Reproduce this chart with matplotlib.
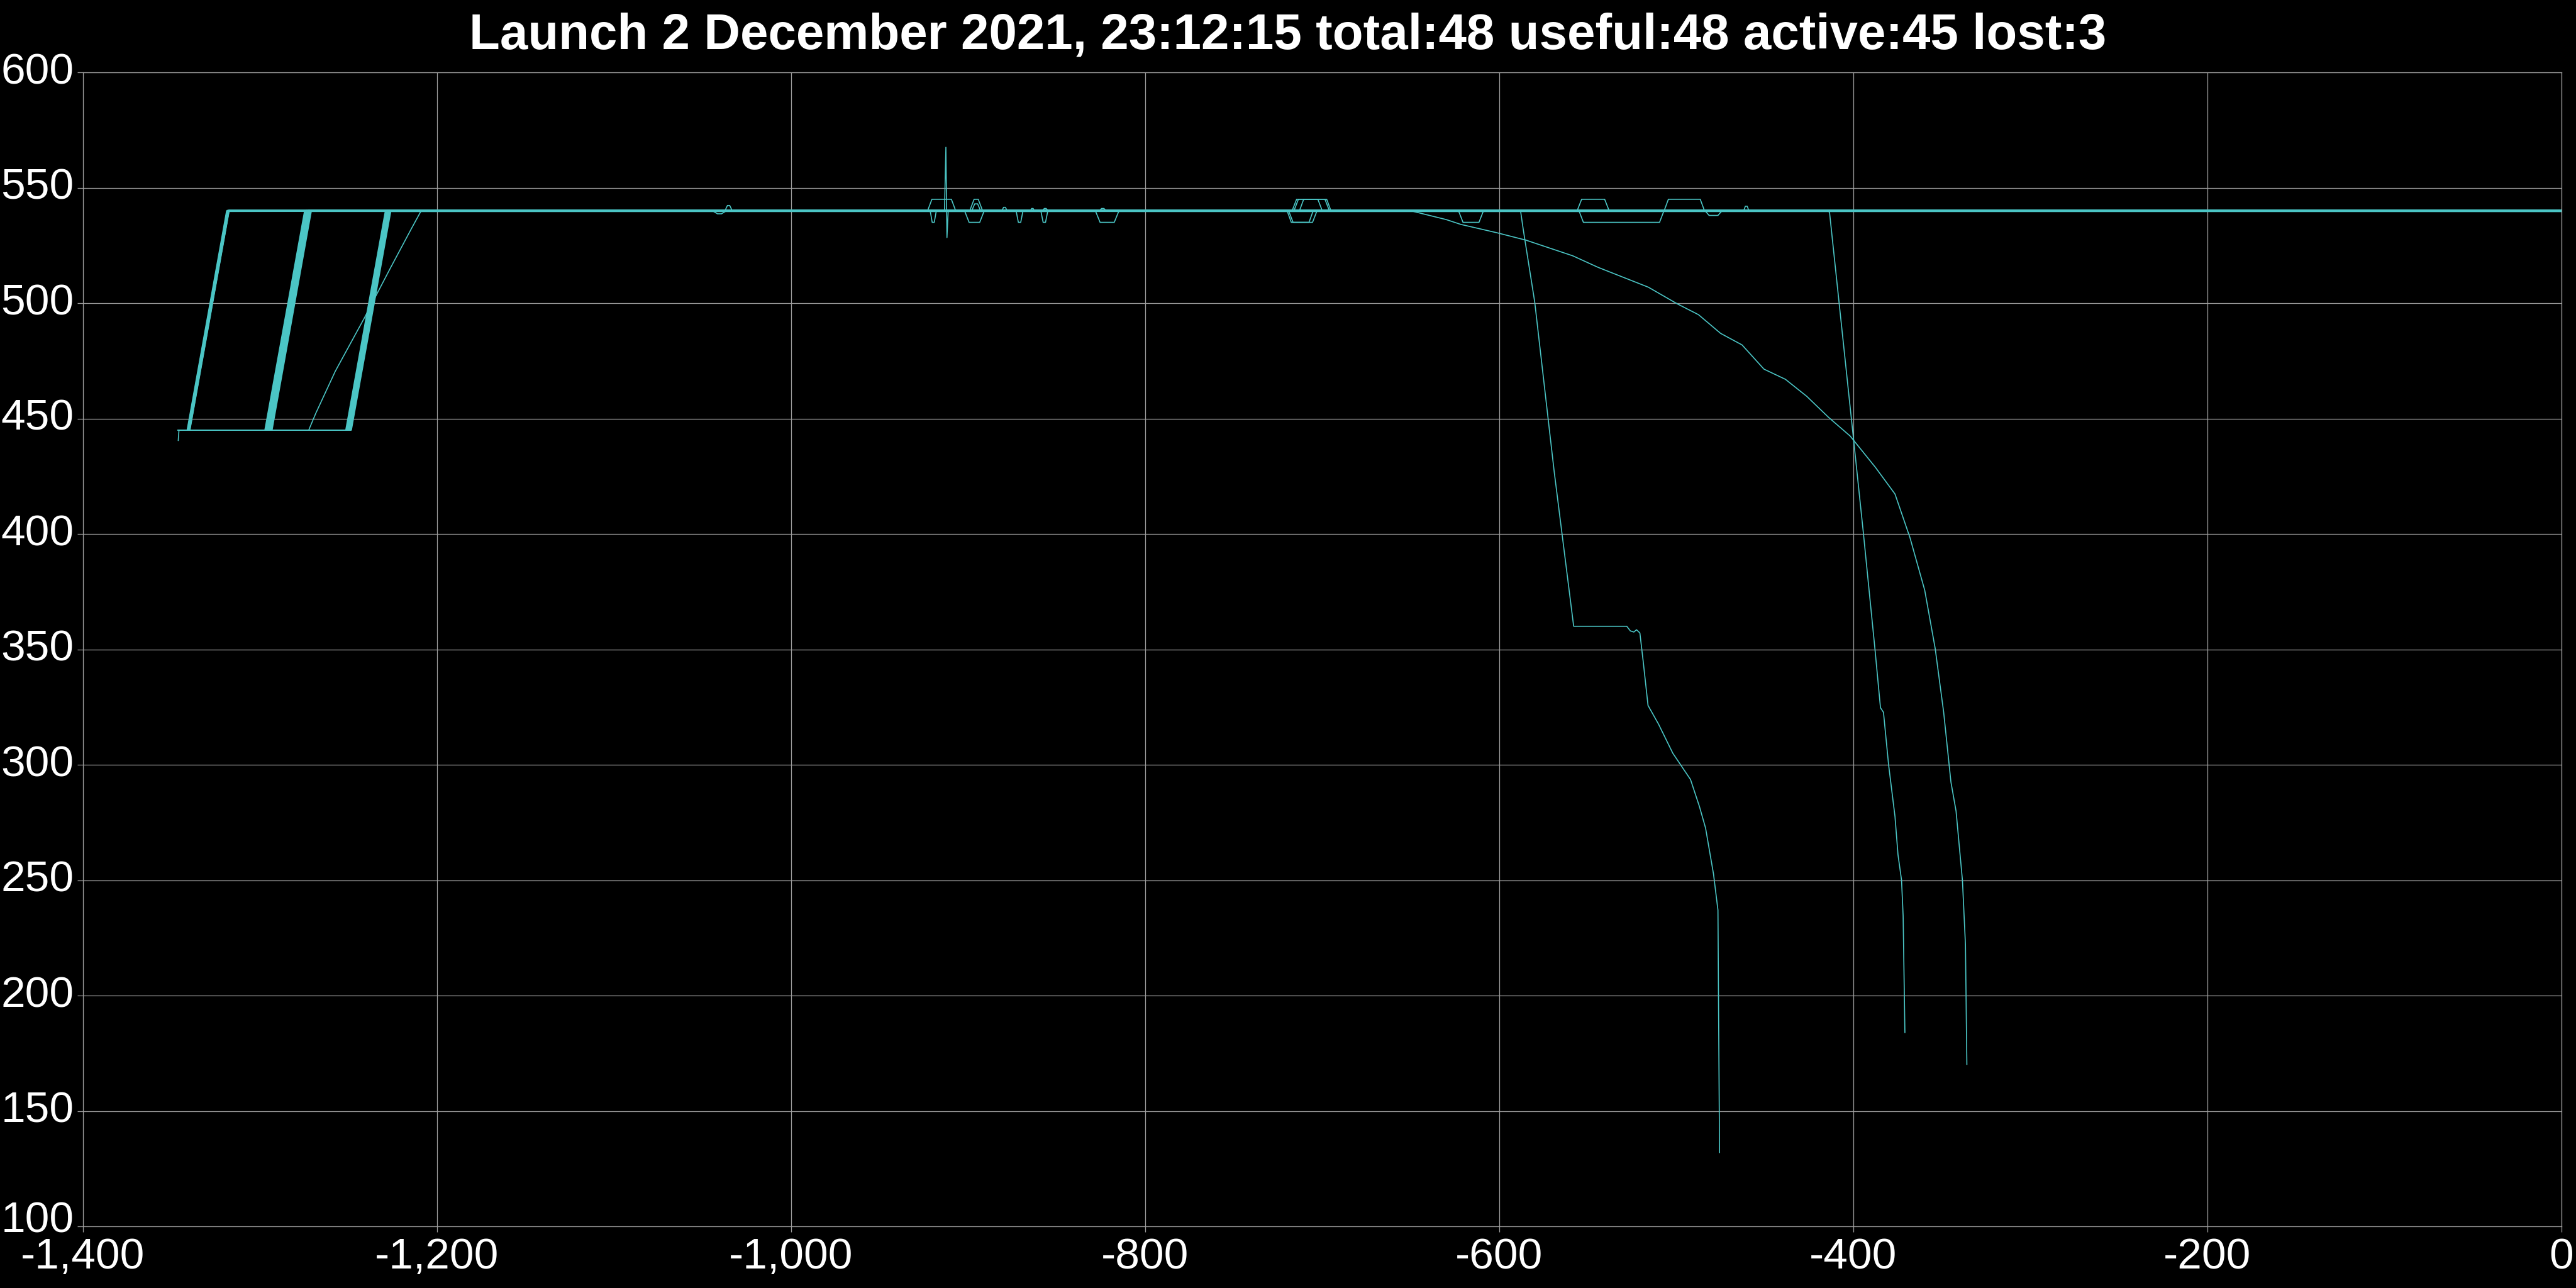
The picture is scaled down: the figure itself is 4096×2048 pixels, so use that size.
import matplotlib
matplotlib.use("Agg")
import matplotlib.pyplot as plt
import matplotlib.transforms as mtransforms
from matplotlib.ticker import FuncFormatter

TITLE = "Launch 2 December 2021, 23:12:15 total:48 useful:48 active:45 lost:3"

# launch / parking orbit (days, km)
LAUNCH_X = -1346.2
PARK_ALT = 445.0

# orbit raising, one entry per satellite (0-11 first plane, 12-29 second, 30-46 third)
raise_start = [
    -1341.2, -1341.0, -1340.8, -1340.9, -1340.5, -1340.6, -1340.2, -1340.3, -1340.0, -1339.9, -1339.6, -1339.7,
    -1297.3, -1297.0, -1296.6, -1296.8, -1296.3, -1296.0, -1295.8, -1295.5, -1295.6, -1295.2, -1295.0, -1294.7,
    -1294.5, -1294.3, -1294.0, -1293.8, -1293.5, -1293.2,
    -1251.6, -1251.3, -1251.0, -1250.8, -1250.7, -1250.5, -1250.3, -1250.1, -1250.0, -1249.8, -1249.6, -1249.4,
    -1249.2, -1249.0, -1248.8, -1248.7, -1248.4,
]
raise_end = [
    -1318.9, -1318.7, -1318.6, -1318.4, -1318.3, -1318.1, -1318.0, -1317.8, -1317.9, -1317.6, -1317.4, -1317.5,
    -1274.9, -1274.6, -1274.3, -1274.1, -1273.9, -1273.6, -1273.4, -1273.2, -1273.0, -1272.8, -1272.6, -1272.4,
    -1272.2, -1272.0, -1271.8, -1271.6, -1271.3, -1271.0,
    -1229.2, -1228.9, -1228.7, -1228.5, -1228.3, -1228.2, -1228.0, -1227.8, -1227.7, -1227.5, -1227.3, -1227.1,
    -1226.9, -1226.8, -1226.6, -1226.4, -1226.1,
]
op_alt = [
    540.0, 539.8, 540.2, 539.9, 540.1, 540.0, 539.7, 540.3, 540.0, 539.9, 540.1, 540.2,
    539.8, 540.0, 540.1, 539.9, 540.2, 540.0, 539.7, 540.1, 540.0, 539.8, 540.3, 540.0,
    539.9, 540.1, 540.0, 539.8, 540.2, 540.0,
    540.1, 539.9, 540.0, 540.2, 539.8, 540.0, 540.1, 539.7, 540.0, 540.2, 539.9, 540.0,
    540.1, 539.8, 540.0, 540.2, 539.9,
    540.0,
]

# satellite 47 climbed on its own, slowly
slow_sat = 47
slow_raise_x = [-1346.2, -1272.5, -1268.5, -1257.5, -1241.2, -1226.3, -1214.7, -1209.0, 0.0]
slow_raise_y = [445.0, 445.0, 452.3, 470.5, 493.4, 515.3, 532.0, 540.0, 540.0]

# one satellite dipped a bit right after launch
first_alt = {0: 440.5}

# station keeping manoeuvres: (sat, x start, x end, altitude)
wiggles = [
    (1, -1044.0, -1037.0, 538.7), (2, -1037.3, -1033.4, 542.3),
    (3, -923.0, -907.0, 545.0), (4, -921.5, -918.0, 535.0),
    (7, -899.0, -892.0, 545.0), (8, -898.0, -893.0, 543.0), (9, -902.0, -891.0, 535.0),
    (10, -881.0, -878.0, 541.5), (11, -873.0, -869.0, 535.0), (13, -865.0, -862.5, 541.0),
    (14, -859.0, -855.0, 535.0), (16, -858.0, -855.0, 541.0),
    (17, -826.0, -822.0, 541.0), (18, -828.0, -815.0, 535.0),
    (19, -717.0, -696.0, 545.0), (20, -716.0, -700.0, 545.0), (21, -713.0, -695.0, 545.0),
    (22, -720.0, -705.0, 535.0), (23, -719.0, -703.0, 535.0),
    (24, -623.0, -609.0, 535.0), (25, -556.0, -538.0, 545.0), (26, -555.0, -507.0, 535.0),
    (27, -507.0, -484.0, 545.0), (28, -484.0, -474.0, 538.0), (29, -462.0, -459.0, 542.0),
]

spike_sat = 6
spike_x = [-913.4, -912.6, -912.0, -911.3]
spike_y = [540.0, 567.5, 528.4, 540.0]

# lost satellites
decay_a_x = [-650.0, -630.0, -621.7, -601.4, -585.0, -558.5, -544.2, -515.8, -499.5, -487.5, -475.0,
             -462.9, -450.5, -438.4, -426.3, -414.0, -401.8, -387.5, -376.5, -368.0, -359.7, -353.8,
             -349.0, -344.9, -342.0, -338.4, -336.7, -335.9]
decay_a_y = [540.0, 536.2, 534.1, 530.5, 527.3, 520.5, 515.5, 506.9, 499.7, 495.0, 486.9,
             481.9, 471.4, 467.0, 459.6, 450.5, 442.4, 428.8, 417.3, 398.3, 375.6, 350.4,
             322.7, 292.5, 279.9, 249.9, 222.0, 170.2]
decay_b_x = [-588.0, -586.5, -580.0, -569.0, -558.0, -545.0, -528.0, -526.0, -524.0, -522.5, -520.6,
             -518.7, -516.0, -510.0, -502.0, -492.0, -487.0, -483.5, -479.0, -476.5, -476.2, -475.6]
decay_b_y = [540.0, 532.0, 500.5, 427.0, 360.0, 360.0, 360.0, 358.0, 357.5, 358.5, 357.1,
             344.6, 325.7, 317.5, 305.0, 293.6, 282.0, 272.6, 252.6, 237.0, 200.0, 132.0]
decay_c_x = [-415.0, -413.5, -400.0, -394.3, -387.8, -384.7, -383.0, -380.1, -376.5, -374.8, -372.8,
             -371.9, -370.9]
decay_c_y = [540.0, 539.5, 441.7, 400.0, 350.0, 324.7, 322.7, 299.9, 277.6, 261.0, 250.0,
             234.5, 184.0]
decays = {15: (decay_a_x, decay_a_y), 5: (decay_b_x, decay_b_y), 35: (decay_c_x, decay_c_y)}

N_SATS = 48
TEAL = "#4bc5c5"
GRID = "#a0a0a0"


def sat_track(i):
    if i == slow_sat:
        pts = list(zip(slow_raise_x, slow_raise_y))
    else:
        alt = op_alt[i]
        pts = [(LAUNCH_X, first_alt.get(i, PARK_ALT)), (LAUNCH_X + 0.4, PARK_ALT),
               (raise_start[i], PARK_ALT), (raise_end[i], alt)]
        if i in decays:
            dx, dy = decays[i]
            pts += list(zip(dx, dy))
        else:
            pts.append((0.0, alt))
        for s, x0, x1, a in wiggles:
            if s != i:
                continue
            ramp = min(2.5, (x1 - x0) / 3)
            pts += [(x0, alt), (x0 + ramp, a), (x1 - ramp, a), (x1, alt)]
        if i == spike_sat:
            pts += list(zip(spike_x, spike_y))
    pts.sort(key=lambda p: p[0])
    return [p[0] for p in pts], [p[1] for p in pts]


plt.rcParams["font.family"] = ["Liberation Sans", "DejaVu Sans"]

fig = plt.figure(figsize=(40.96, 20.48), dpi=100, facecolor="black")
ax = fig.add_axes([132 / 4096, 98 / 2048, 3941 / 4096, 1835 / 2048], facecolor="black")

for i in range(N_SATS):
    xs, ys = sat_track(i)
    ax.plot(xs, ys, color=TEAL, lw=1.2, solid_joinstyle="round", zorder=3)

ax.set_xlim(-1400, 0)
ax.set_ylim(100, 600)
ax.set_xticks(range(-1400, 1, 200))
ax.set_yticks(range(100, 601, 50))
ax.xaxis.set_major_formatter(FuncFormatter(lambda v, p: f"{v:,.0f}"))
ax.grid(True, color=GRID, lw=0.9, zorder=0)
for sp in ax.spines.values():
    sp.set_color(GRID)
    sp.set_linewidth(0.9)
ax.tick_params(colors=GRID, labelcolor="white", labelsize=50, length=6.5, width=0.9)
ax.tick_params(axis="x", pad=6)
ax.tick_params(axis="y", pad=4)

# y labels sit a little above their grid lines; the lowest one a bit more,
# so it clears the first x label
fig.canvas.draw()
for lab in ax.get_yticklabels():
    up = 11 if lab.get_text() == "100" else 5
    lift = mtransforms.ScaledTranslation(0, up / 72, fig.dpi_scale_trans)
    lab.set_transform(lab.get_transform() + lift)

fig.text(0.5, 1 - 77 / 2048, TITLE, ha="center", va="baseline",
         color="white", fontsize=57.5, fontweight="bold")

fig.savefig("out.png", dpi=100, facecolor="black")
